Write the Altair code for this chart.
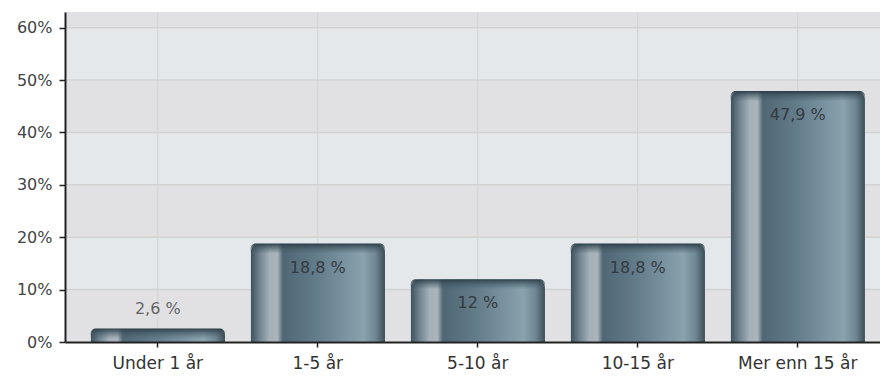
import altair as alt
import pandas as pd

categories = ["Under 1 år", "1-5 år", "5-10 år", "10-15 år", "Mer enn 15 år"]
values = [2.6, 18.8, 12, 18.8, 47.9]
labels = ["2,6 %", "18,8 %", "12 %", "18,8 %", "47,9 %"]

y_ticks = [0, 10, 20, 30, 40, 50, 60]
band_lo = [0, 20, 40, 60]
band_hi = [10, 30, 50, 63]

df = pd.DataFrame({"cat": categories, "value": values, "label": labels})
bands = pd.DataFrame({"lo": band_lo, "hi": band_hi})
ticks = pd.DataFrame({"t": y_ticks})

FONT = "DejaVu Sans"
ydom = alt.Scale(domain=[0, 63], nice=False, zero=True)
xsc = alt.Scale(domain=categories, paddingInner=0.16, paddingOuter=0.127, align=0.63)

band_layer = alt.Chart(bands).mark_rect(color="#e1e1e3").encode(
    y=alt.Y("lo:Q", scale=ydom),
    y2="hi:Q",
    x=alt.value(0),
    x2=alt.value(815),
)

hgrid = alt.Chart(ticks).transform_filter("datum.t > 0").mark_rule(color="#d3d3d3", strokeWidth=1.5).encode(
    y=alt.Y("t:Q", scale=ydom),
    x=alt.value(0),
    x2=alt.value(815),
)

vgrid = alt.Chart(df).mark_rule(color="#d3d3d3", strokeWidth=1).encode(
    x=alt.X("cat:N", scale=xsc, sort=None),
    y=alt.value(0),
    y2=alt.value(330),
)

bar_grad = alt.Gradient(
    gradient="linear", x1=0, x2=1, y1=0, y2=0,
    stops=[
        alt.GradientStop(color="#3b505b", offset=0),
        alt.GradientStop(color="#6a7f8b", offset=0.06),
        alt.GradientStop(color="#a4b1b8", offset=0.14),
        alt.GradientStop(color="#a9b5bb", offset=0.2),
        alt.GradientStop(color="#506674", offset=0.24),
        alt.GradientStop(color="#647d8b", offset=0.5),
        alt.GradientStop(color="#8aa2ae", offset=0.84),
        alt.GradientStop(color="#6f8794", offset=0.93),
        alt.GradientStop(color="#3a4e58", offset=1),
    ],
)

bars = alt.Chart(df).mark_bar(
    fill=bar_grad, cornerRadiusTopLeft=9, cornerRadiusTopRight=9
).encode(
    x=alt.X("cat:N", scale=xsc, sort=None,
            axis=alt.Axis(title=None, labelFont=FONT, labelFontSize=17, labelColor="#333333",
                          labelAlign="center", labelBaseline="top",
                          domainColor="#222222", domainWidth=2, tickColor="#222222",
                          tickSize=5, tickWidth=1.5, labelPadding=8, grid=False,
                          labelAngle=0, zindex=1)),
    y=alt.Y("value:Q", scale=ydom,
            axis=alt.Axis(title=None, values=y_ticks, labelExpr="datum.value + '%'",
                          labelFont=FONT, labelFontSize=16, labelColor="#444444",
                          domainColor="#222222", domainWidth=2, tickColor="#222222",
                          tickSize=6, tickWidth=1.5, labelPadding=7, grid=False, zindex=1)),
)

cap_grad = alt.Gradient(
    gradient="linear", x1=0, x2=0, y1=0, y2=1,
    stops=[
        alt.GradientStop(color="rgba(40,58,68,0.95)", offset=0),
        alt.GradientStop(color="rgba(60,80,92,0.5)", offset=0.5),
        alt.GradientStop(color="rgba(60,80,92,0)", offset=1),
    ],
)

caps = alt.Chart(df).mark_bar(
    fill=cap_grad, cornerRadiusTopLeft=9, cornerRadiusTopRight=9, y2Offset=10
).encode(
    x=alt.X("cat:N", scale=xsc, sort=None),
    y=alt.Y("value:Q", scale=ydom),
    y2="value:Q",
)

text_in = alt.Chart(df).transform_filter("datum.value >= 5").mark_text(
    font=FONT, fontSize=16, color="#333b40", baseline="middle", dy=24
).encode(
    x=alt.X("cat:N", scale=xsc, sort=None),
    y=alt.Y("value:Q", scale=ydom),
    text="label:N",
)

text_out = alt.Chart(df).transform_filter("datum.value < 5").mark_text(
    font=FONT, fontSize=16, color="#666666", baseline="middle", dy=-19
).encode(
    x=alt.X("cat:N", scale=xsc, sort=None),
    y=alt.Y("value:Q", scale=ydom),
    text="label:N",
)

chart = alt.layer(band_layer, hgrid, vgrid, bars, caps, text_in, text_out).properties(
    width=815, height=330,
    autosize=alt.AutoSizeParams(type="none"),
    padding={"left": 65, "top": 12, "right": 0, "bottom": 35},
    background="white",
).configure_view(fill="#e4e8eb", stroke=None)

chart.save("out.html", embed_options={"renderer": "svg", "actions": False})
